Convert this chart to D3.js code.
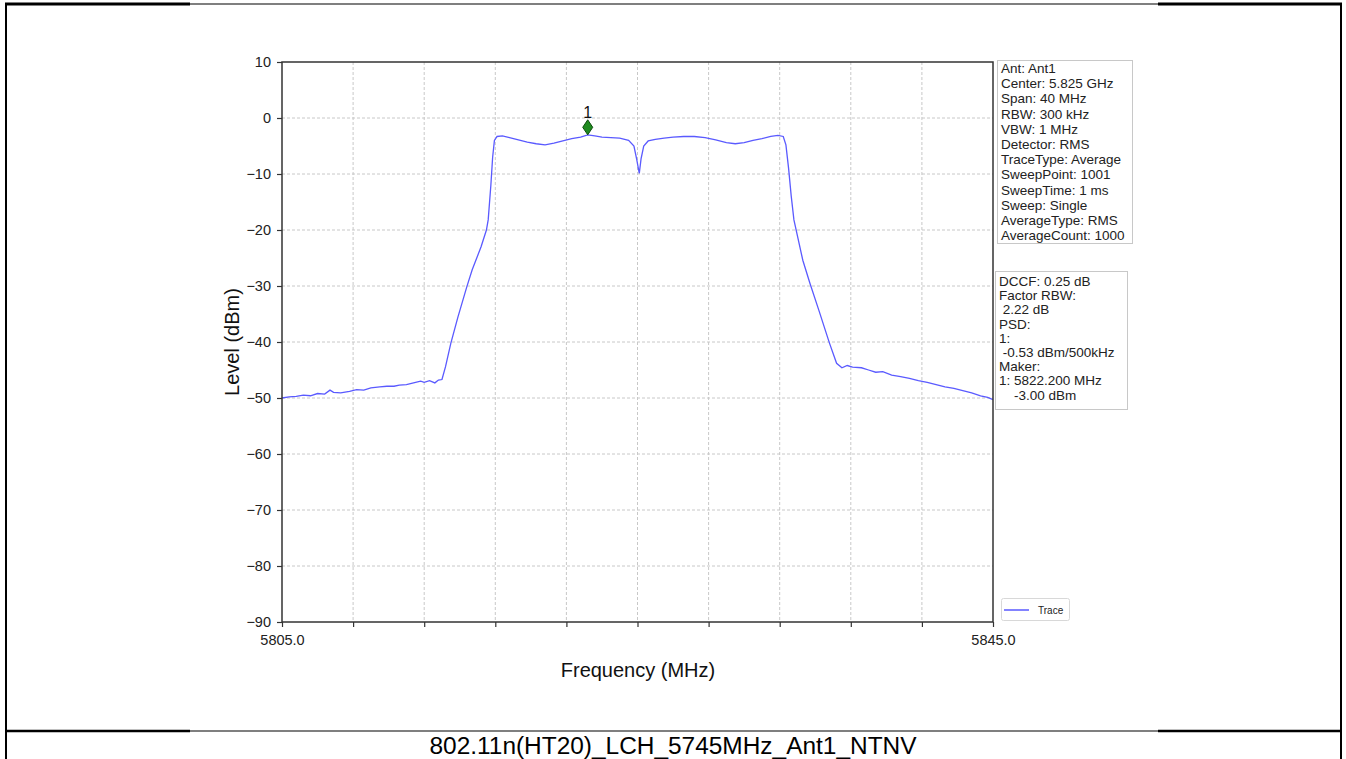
<!DOCTYPE html>
<html>
<head>
<meta charset="utf-8">
<script src="https://cdn.jsdelivr.net/npm/d3@7"></script>
<style>
  html, body { margin: 0; padding: 0; background: #fff; }
  svg { display: block; font-family: "Liberation Sans", Arial, sans-serif; }
</style>
</head>
<body>
<svg id="chart" width="1346" height="759"></svg>
<script>
// ---- data ----
const freqs = [5805.0,5805.4,5805.8,5806.2,5806.6,5807.0,5807.4,5807.7,5807.9,5808.3,5808.8,5809.2,5809.6,5810.0,5810.5,5810.9,5811.3,5811.6,5812.0,5812.4,5812.8,5813.0,5813.3,5813.6,5813.8,5814.0,5814.2,5814.5,5814.9,5815.4,5815.7,5816.2,5816.5,5816.6,5816.75,5816.85,5816.95,5817.1,5817.4,5817.8,5818.3,5818.8,5819.3,5819.8,5820.3,5820.8,5821.3,5821.8,5822.2,5822.6,5823.0,5823.5,5824.0,5824.5,5824.8,5824.95,5825.1,5825.2,5825.35,5825.6,5826.0,5826.5,5827.0,5827.6,5828.2,5828.8,5829.4,5830.0,5830.5,5831.0,5831.5,5832.0,5832.5,5832.9,5833.2,5833.35,5833.5,5833.65,5833.8,5834.3,5834.7,5835.2,5835.8,5836.2,5836.5,5836.8,5837.1,5837.6,5838.0,5838.4,5838.8,5839.3,5839.8,5840.3,5840.8,5841.3,5841.8,5842.3,5842.8,5843.3,5843.8,5844.3,5844.7,5845.0];
const levels = [-50.0,-49.8,-49.7,-49.5,-49.6,-49.2,-49.3,-48.6,-49.0,-49.1,-48.8,-48.5,-48.6,-48.2,-48.0,-47.9,-47.9,-47.7,-47.6,-47.3,-47.0,-47.2,-46.9,-47.3,-46.8,-46.7,-44.4,-40.2,-35.5,-30.1,-27.1,-23.0,-20.0,-18.2,-12.0,-7.0,-4.0,-3.3,-3.2,-3.5,-3.9,-4.3,-4.6,-4.8,-4.5,-4.1,-3.7,-3.4,-3.0,-3.2,-3.4,-3.5,-3.6,-4.0,-5.0,-7.3,-9.9,-7.3,-5.0,-4.1,-3.8,-3.6,-3.4,-3.3,-3.3,-3.5,-3.9,-4.4,-4.6,-4.4,-4.0,-3.7,-3.3,-3.1,-3.3,-4.8,-9.0,-14.0,-18.2,-25.4,-29.5,-34.3,-40.2,-43.8,-44.6,-44.2,-44.5,-44.6,-45.0,-45.4,-45.3,-45.9,-46.2,-46.5,-46.9,-47.2,-47.6,-48.0,-48.3,-48.7,-49.1,-49.6,-49.9,-50.3];

const xTicks = [5805,5809,5813,5817,5821,5825,5829,5833,5837,5841,5845];
const xTickLabels = ["5805.0","","","","","","","","","","5845.0"];
const yTicks = [10,0,-10,-20,-30,-40,-50,-60,-70,-80,-90];

const markerFreq = 5822.2;
const markerLevel = -3.0;
const markerLabel = "1";

const infoLines = ["Ant: Ant1","Center: 5.825 GHz","Span: 40 MHz","RBW: 300 kHz","VBW: 1 MHz","Detector: RMS","TraceType: Average","SweepPoint: 1001","SweepTime: 1 ms","Sweep: Single","AverageType: RMS","AverageCount: 1000"];
const resultLines = ["DCCF: 0.25 dB","Factor RBW:"," 2.22 dB","PSD:","1:"," -0.53 dBm/500kHz","Maker:","1: 5822.200 MHz","    -3.00 dBm"];

const caption = "802.11n(HT20)_LCH_5745MHz_Ant1_NTNV";
const xTitle = "Frequency (MHz)";
const yTitle = "Level (dBm)";
const legendLabel = "Trace";

// ---- drawing ----
const svg = d3.select("#chart");
const traceColor = "#5a5aff";

// outer page frame
const frame = svg.append("g");
frame.append("line").attr("x1",6).attr("x2",6).attr("y1",3).attr("y2",759).attr("stroke","#000").attr("stroke-width",2);
frame.append("line").attr("x1",1341).attr("x2",1341).attr("y1",3).attr("y2",759).attr("stroke","#000").attr("stroke-width",2);
[[4,3],[731,2.5]].forEach(([yy,w]) => {
  frame.append("line").attr("x1",5).attr("x2",190).attr("y1",yy).attr("y2",yy).attr("stroke","#000").attr("stroke-width",w);
  frame.append("line").attr("x1",190).attr("x2",1158).attr("y1",yy).attr("y2",yy).attr("stroke","#000").attr("stroke-width",1.2);
  frame.append("line").attr("x1",1158).attr("x2",1342).attr("y1",yy).attr("y2",yy).attr("stroke","#000").attr("stroke-width",w);
});

const L = 282, R = 993, T = 62, B = 622;
const x = d3.scaleLinear().domain([5805,5845]).range([L,R]);
const y = d3.scaleLinear().domain([-90,10]).range([B,T]);

// grid
const grid = svg.append("g");
grid.selectAll("line.h").data(yTicks.filter(d => d > -90 && d < 10)).join("line")
  .attr("x1",L).attr("x2",R).attr("y1",d=>y(d)).attr("y2",d=>y(d))
  .attr("stroke","#c8c8c8").attr("stroke-width",1).attr("stroke-dasharray","3,2");
grid.selectAll("line.v").data(xTicks.filter(d => d > 5805 && d < 5845)).join("line")
  .attr("x1",d=>x(d)).attr("x2",d=>x(d)).attr("y1",T).attr("y2",B)
  .attr("stroke","#c8c8c8").attr("stroke-width",1).attr("stroke-dasharray","3,2");

// trace
const pts = freqs.map((f,i) => [f, levels[i]]);
svg.append("path").datum(pts)
  .attr("d", d3.line().x(d=>x(d[0])).y(d=>y(d[1])))
  .attr("fill","none").attr("stroke",traceColor).attr("stroke-width",1.3);

// plot frame
svg.append("rect").attr("x",L).attr("y",T).attr("width",R-L).attr("height",B-T)
  .attr("fill","none").attr("stroke","#333").attr("stroke-width",1.5);

// axes
const yAxis = d3.axisLeft(y).tickValues(yTicks).tickSize(5).tickPadding(6).tickFormat(d => d < 0 ? "\u2212" + Math.abs(d) : d);
const gy = svg.append("g").attr("transform",`translate(${L},0)`).call(yAxis);
gy.select(".domain").remove();
gy.selectAll("line").attr("stroke","#333").attr("stroke-width",1.2);
gy.selectAll("text").attr("font-size","14.5px").attr("fill","#222").attr("font-family","Liberation Sans, Arial, sans-serif");

const xAxis = d3.axisBottom(x).tickValues(xTicks).tickSize(5).tickPadding(8).tickFormat((d,i) => xTickLabels[i]);
const gx = svg.append("g").attr("transform",`translate(0,${B})`).call(xAxis);
gx.select(".domain").remove();
gx.selectAll("line").attr("stroke","#333").attr("stroke-width",1.2);
gx.selectAll("text").attr("font-size","14.5px").attr("fill","#222").attr("font-family","Liberation Sans, Arial, sans-serif");

// axis titles
svg.append("text").attr("x",638).attr("y",677).attr("text-anchor","middle")
  .attr("font-size","20px").attr("fill","#111").text(xTitle);
svg.append("text").attr("transform",`translate(239,342) rotate(-90)`).attr("text-anchor","middle")
  .attr("font-size","20px").attr("fill","#111").text(yTitle);

// marker
const mx = x(markerFreq), my = y(markerLevel) - 7.5;
svg.append("path")
  .attr("d", `M${mx},${my-7.5} L${mx+5},${my} L${mx},${my+7.5} L${mx-5},${my} Z`)
  .attr("fill","#1f8a1f").attr("stroke","#0c4d0c").attr("stroke-width",1);
svg.append("text").attr("x",mx).attr("y",my-9).attr("text-anchor","middle")
  .attr("font-size","16px").attr("fill","#111").text(markerLabel);

// info box 1
const box1 = svg.append("g");
box1.append("rect").attr("x",997.5).attr("y",60.5).attr("width",135).attr("height",183)
  .attr("fill","#fff").attr("stroke","#c8c8c8");
box1.selectAll("text").data(infoLines).join("text")
  .attr("x",1001).attr("y",(d,i)=>73 + i*15.2)
  .attr("font-size","13.5px").attr("fill","#222")
  .attr("textLength", d => null)
  .text(d=>d);

// info box 2
const box2 = svg.append("g");
box2.append("rect").attr("x",995.5).attr("y",271.5).attr("width",132).attr("height",138)
  .attr("fill","#fff").attr("stroke","#c8c8c8");
box2.selectAll("text").data(resultLines).join("text")
  .attr("x",999).attr("y",(d,i)=>286 + i*14.2)
  .attr("xml:space","preserve").style("white-space","pre")
  .attr("font-size","13.5px").attr("fill","#222").text(d=>d);

// legend
const lg = svg.append("g");
lg.append("rect").attr("x",1001.5).attr("y",598.5).attr("width",68).attr("height",22).attr("rx",2)
  .attr("fill","#fff").attr("stroke","#d8d8d8");
lg.append("line").attr("x1",1004).attr("x2",1029).attr("y1",610).attr("y2",610)
  .attr("stroke",traceColor).attr("stroke-width",1.5);
lg.append("text").attr("x",1038).attr("y",614).attr("font-size","10px").attr("fill","#222").text(legendLabel);

// caption
svg.append("text").attr("x",673).attr("y",754).attr("text-anchor","middle")
  .attr("font-size","23px").attr("fill","#000")
  .attr("textLength",487).attr("lengthAdjust","spacingAndGlyphs").text(caption);
</script>
</body>
</html>
